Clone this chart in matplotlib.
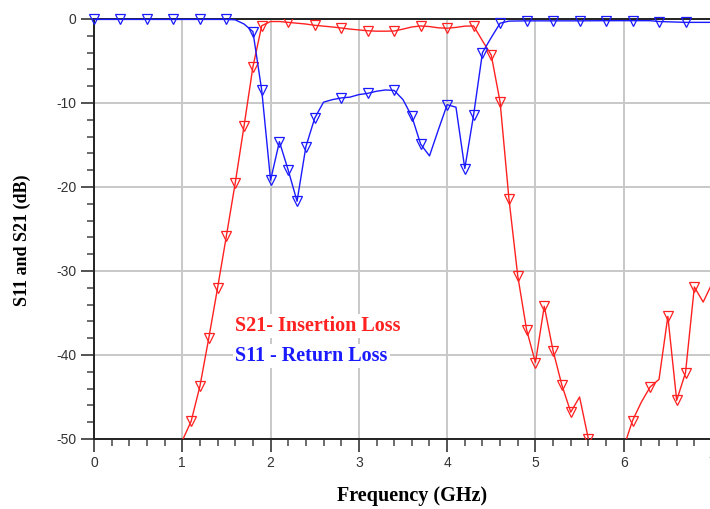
import numpy as np
import matplotlib
matplotlib.use("Agg")
from matplotlib import pyplot as plt

plt.rcParams["axes.unicode_minus"] = False
plt.rcParams["font.family"] = ["Liberation Sans", "DejaVu Sans"]

# frequency grid (GHz) for S21 and S11
freq_s21 = [1.0, 1.1, 1.2, 1.3, 1.4, 1.5, 1.6, 1.7, 1.8, 1.9,
            2.0, 2.1, 2.2, 2.3, 2.4, 2.5, 2.6, 2.7, 2.8, 2.9,
            3.0, 3.1, 3.2, 3.3, 3.4, 3.5, 3.6, 3.7, 3.8, 3.9,
            4.0, 4.1, 4.2, 4.3, 4.4, 4.5, 4.6, 4.7, 4.8, 4.9,
            5.0, 5.1, 5.2, 5.3, 5.4, 5.5, 5.6, 5.7, 5.8, 5.9,
            6.0, 6.1, 6.2, 6.3, 6.4, 6.5, 6.6, 6.7, 6.8, 6.9, 7.0]
s21 = [-50.2, -47.9, -43.7, -38.0, -32.0, -25.8, -19.5, -12.7, -5.7, -0.8,
       -0.3, -0.3, -0.4, -0.5, -0.6, -0.75, -0.85, -0.95, -1.07, -1.2,
       -1.3, -1.4, -1.45, -1.45, -1.43, -1.2, -0.95, -0.83, -0.9, -1.05,
       -1.1, -1.0, -0.85, -0.83, -2.6, -4.3, -9.9, -21.4, -30.6, -37.0,
       -40.9, -34.2, -39.5, -43.6, -46.8, -45.0, -50.0, -54.0, -57.0, -55.0,
       -51.0, -47.8, -45.6, -43.8, -42.9, -35.4, -45.4, -42.1, -31.9, -33.7, -31.5]
s21_markers = [1.1, 1.2, 1.3, 1.4, 1.5, 1.6, 1.7, 1.8, 1.9, 2.2, 2.5, 2.8, 3.1,
               3.4, 3.7, 4.0, 4.3, 4.5, 4.6, 4.7, 4.8, 4.9, 5.0, 5.1, 5.2, 5.3,
               5.4, 5.6, 6.1, 6.3, 6.5, 6.6, 6.7, 6.8]

freq_s11 = [0.0, 0.3, 0.6, 0.9, 1.2, 1.5, 1.6, 1.7, 1.8, 1.9,
            2.0, 2.1, 2.2, 2.3, 2.4, 2.5, 2.6, 2.7, 2.8, 2.9,
            3.0, 3.1, 3.2, 3.3, 3.4, 3.5, 3.6, 3.7, 3.8, 3.9,
            4.0, 4.1, 4.2, 4.3, 4.4, 4.5, 4.6, 4.7, 4.9, 5.2,
            5.5, 5.8, 6.1, 6.3, 6.4, 6.7, 7.0]
s11 = [-0.05, -0.05, -0.05, -0.05, -0.05, -0.05, -0.1, -0.6, -1.5, -8.5,
       -19.2, -14.6, -18.0, -21.7, -15.2, -11.8, -9.9, -9.6, -9.4, -9.3,
       -9.0, -8.85, -8.6, -8.45, -8.5, -9.6, -11.6, -14.9, -16.3, -13.2,
       -10.2, -10.5, -17.8, -11.4, -4.0, -2.2, -0.5, -0.25, -0.22, -0.22,
       -0.22, -0.2, -0.2, -0.2, -0.3, -0.4, -0.4]
s11_markers = [0.0, 0.3, 0.6, 0.9, 1.2, 1.5, 1.8, 1.9, 2.0, 2.1, 2.2, 2.3, 2.4,
               2.5, 2.8, 3.1, 3.4, 3.6, 3.7, 4.0, 4.2, 4.3, 4.4, 4.6, 4.9, 5.2,
               5.5, 5.8, 6.1, 6.4, 6.7]

x_ticks = [0, 1, 2, 3, 4, 5, 6, 7]
y_ticks = [0, -10, -20, -30, -40, -50]

red = "#ff2020"
blue = "#1a1aff"


def mark_idx(freqs, marks):
    f = np.round(np.array(freqs), 3)
    return [int(np.where(f == round(m, 3))[0][0]) for m in marks]


fig = plt.figure(figsize=(7.10, 5.09), dpi=100)
ax = fig.add_axes([94 / 710, 70 / 509, 618 / 710, 420 / 509])

ax.plot(freq_s21, s21, color=red, lw=1.0, marker="v", ms=7,
        mfc="none", mec=red, mew=0.9, markevery=mark_idx(freq_s21, s21_markers),
        clip_on=True, zorder=3)
ax.plot(freq_s11, s11, color=blue, lw=1.0, marker="v", ms=7,
        mfc="none", mec=blue, mew=0.9, markevery=mark_idx(freq_s11, s11_markers),
        clip_on=False, zorder=4)

ax.set_xlim(0, 7)
ax.set_ylim(-50, 0)
ax.set_xticks(x_ticks)
ax.set_yticks(y_ticks)
ax.set_xticks(np.arange(0, 7.01, 0.2), minor=True)
ax.set_yticks(np.arange(-50, 0.01, 2), minor=True)
ax.grid(True, which="major", color="#c8c8c8", lw=1.4, zorder=0)
ax.set_axisbelow(True)

for side in ["left", "bottom", "top"]:
    ax.spines[side].set_color("#222222")
    ax.spines[side].set_linewidth(1.4)
ax.spines["right"].set_visible(False)

ax.tick_params(which="major", length=9.5, width=1.3, color="#444444",
               labelsize=10, labelcolor="#333333", pad=3)
ax.tick_params(which="minor", length=5, width=1.1, color="#444444")
ax.tick_params(axis="y", which="both", left=True, right=False)
ax.tick_params(axis="x", which="both", bottom=True, top=False)

serif = ["Liberation Serif", "DejaVu Serif"]
ax.set_xlabel("Frequency (GHz)", family=serif, fontweight="bold", fontsize=14.5)
ax.set_ylabel("S11 and S21 (dB)", family=serif, fontweight="bold", fontsize=13)
ax.xaxis.set_label_coords((412 - 94) / 618, -(486 - 439) / 420)
ax.yaxis.set_label_coords(-(94 - 31) / 618, (439 - 240) / 420)

box = dict(facecolor="white", edgecolor="none", pad=1.5)
ax.text(1.6, -36.6, "S21- Insertion Loss", color=red, family=serif,
        fontweight="bold", fontsize=14.5, va="center", ha="left", bbox=box, zorder=5)
ax.text(1.6, -40.1, "S11 - Return Loss", color=blue, family=serif,
        fontweight="bold", fontsize=14.5, va="center", ha="left", bbox=box, zorder=5)

fig.savefig("out.png", dpi=100)
